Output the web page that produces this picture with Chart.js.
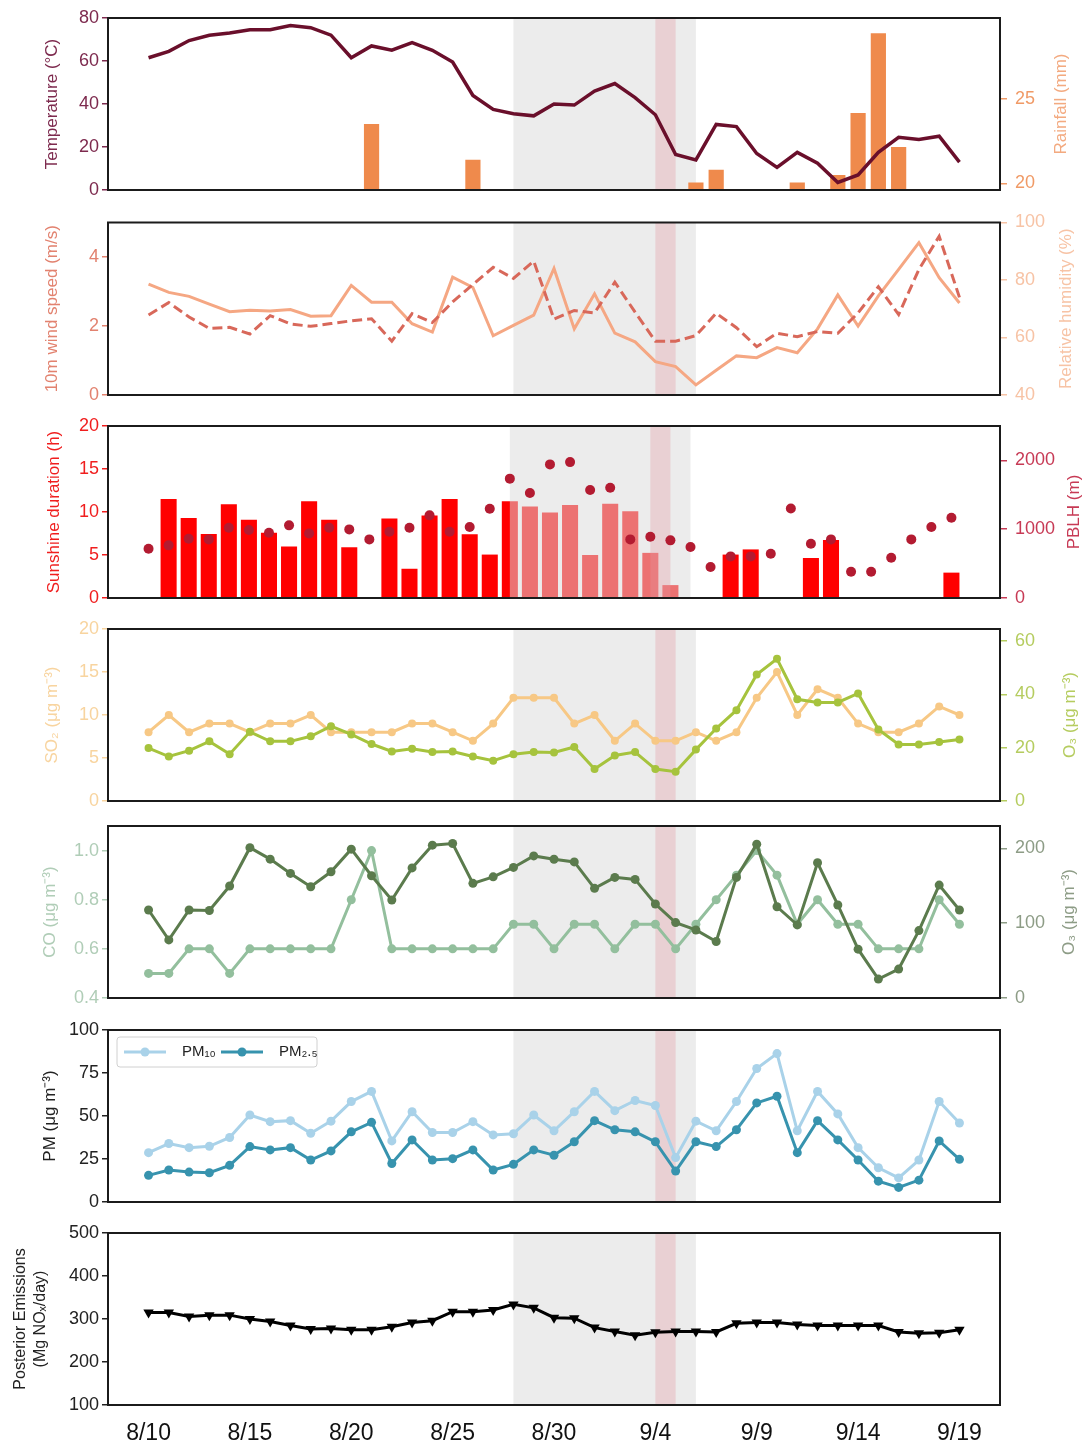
<!DOCTYPE html>
<html>
<head>
<meta charset="utf-8">
<title>Meteorology, pollutants and NOx emissions, 8/10 - 9/19</title>
<script src="https://cdn.jsdelivr.net/npm/chart.js@4.4.1/dist/chart.umd.min.js"></script>
<style>
  html, body { margin: 0; padding: 0; background: #ffffff; }
  #fig { position: relative; width: 1084px; height: 1445px; overflow: hidden; }
  #fig canvas { position: absolute; left: 0; }
</style>
</head>
<body>
<div id="fig"></div>
<script>
// ---- Days on the shared time axis ----
const dates = ['8/10','8/11','8/12','8/13','8/14','8/15','8/16','8/17','8/18','8/19','8/20',
  '8/21','8/22','8/23','8/24','8/25','8/26','8/27','8/28','8/29','8/30','8/31',
  '9/1','9/2','9/3','9/4','9/5','9/6','9/7','9/8','9/9','9/10','9/11','9/12','9/13','9/14',
  '9/15','9/16','9/17','9/18','9/19'];
const xTickLabels = ['8/10','8/15','8/20','8/25','8/30','9/4','9/9','9/14','9/19'];

// Highlighted periods
const episodePeriod = ['8/28', '9/6'];
const peakPeriod = ['9/4', '9/5'];

// ---- Panel 1: temperature and rainfall ----
const temperature = [61.5, 64.5, 69.5, 72, 73, 74.5, 74.5, 76.5, 75.5, 72, 61.5,
  67, 65, 68.5, 65, 59.5, 44, 37.5, 35.5, 34.5, 40, 39.5,
  46, 49.5, 43, 35, 16.5, 14, 30.5, 29.5, 17, 10.5, 17.5, 12.5, 3.5, 7,
  17.5, 24.5, 23.5, 25, 13];
const rainfall = [null, null, null, null, null, null, null, null, null, null, null,
  23.5, null, null, null, null, 21.4, null, null, null, null, null,
  null, null, null, null, null, 20.05, 20.8, null, null, null, 20.05, null, 20.5, 24.15,
  28.85, 22.15, null, null, null];
const temperatureTicks = [0, 20, 40, 60, 80];
const rainfallTicks = [20, 25];

// ---- Panel 2: wind speed and relative humidity ----
const windSpeed = [2.32, 2.68, 2.26, 1.93, 1.96, 1.77, 2.3, 2.06, 1.99, 2.07, 2.15,
  2.21, 1.56, 2.36, 2.1, 2.7, 3.2, 3.7, 3.38, 3.88, 2.2, 2.45,
  2.38, 3.27, 2.4, 1.56, 1.56, 1.72, 2.37, 1.95, 1.4, 1.79, 1.69, 1.84, 1.79, 2.38,
  3.14, 2.33, 3.64, 4.6, 2.83];
const humidity = [78.6, 75.7, 74.3, 71.6, 69, 69.5, 69.2, 69.7, 67.4, 67.6, 78.1,
  72.3, 72.3, 64.8, 61.9, 81, 77.4, 60.6, 64.2, 67.8, 84, 63,
  75.2, 61.5, 58.5, 51.6, 49.9, 43.5, 48.6, 53.6, 53, 56.5, 54.7, 63, 74.8, 64,
  74.5, 83.7, 93, 80.8, 72];
const windTicks = [0, 2, 4];
const humidityTicks = [40, 60, 80, 100];

// ---- Panel 3: sunshine duration and boundary layer height ----
const sunshine = [null, 11.5, 9.3, 7.45, 10.9, 9.1, 7.6, 6.0, 11.25, 9.1, 5.9,
  null, 9.25, 3.4, 9.6, 11.5, 7.4, 5.05, 11.25, 10.65, 9.95, 10.8,
  5.0, 10.95, 10.1, 5.25, 1.5, null, null, 5.05, 5.65, null, null, 4.65, 6.75, null,
  null, null, null, null, 2.95];
const pblh = [716, 765, 862, 852, 1021, 988, 949, 1056, 939, 1021, 997,
  852, 963, 1021, 1201, 963, 1031, 1297, 1735, 1525, 1942, 1975,
  1569, 1602, 852, 891, 838, 741, 450, 605, 605, 644, 1302, 789, 852, 382,
  382, 586, 852, 1031, 1167];
const sunshineTicks = [0, 5, 10, 15, 20];
const pblhTicks = [0, 1000, 2000];

// ---- Panel 4: SO2 and O3 ----
const so2 = [8, 10, 8, 9, 9, 8, 9, 9, 10, 8, 8,
  8, 8, 9, 9, 8, 7, 9, 12, 12, 12, 9,
  10, 7, 9, 7, 7, 8, 7, 8, 12, 15, 10, 13, 12, 9,
  8, 8, 9, 11, 10];
const o3Low = [19.9, 16.7, 18.9, 22.4, 17.6, 26, 22.4, 22.4, 24.3, 28.1, 25,
  21.4, 18.6, 19.6, 18.4, 18.6, 16.7, 15.1, 17.6, 18.4, 18.2, 20.3,
  12, 17.1, 18.4, 12, 11, 19.3, 27.2, 34.1, 47.5, 53.4, 38.2, 37, 37, 40.4,
  26.9, 21.2, 21.2, 22.2, 23.1];
const so2Ticks = [0, 5, 10, 15, 20];
const o3LowTicks = [0, 20, 40, 60];

// ---- Panel 5: CO and O3 ----
const co = [0.5, 0.5, 0.6, 0.6, 0.5, 0.6, 0.6, 0.6, 0.6, 0.6, 0.8,
  1.0, 0.6, 0.6, 0.6, 0.6, 0.6, 0.6, 0.7, 0.7, 0.6, 0.7,
  0.7, 0.6, 0.7, 0.7, 0.6, 0.7, 0.8, 0.9, 1.0, 0.9, 0.7, 0.8, 0.7, 0.7,
  0.6, 0.6, 0.6, 0.8, 0.7];
const o3High = [117.7, 77.7, 117.7, 117, 149.7, 201, 185.7, 166.6, 148.8, 168.8, 199,
  163.5, 131, 174, 204.4, 206.6, 153.3, 162, 174.6, 190, 185.5, 182,
  146.6, 161.3, 158.6, 125.7, 100.8, 91, 75.5, 161.3, 205.7, 122, 97.7, 180.8, 124.4, 65.3,
  25.3, 38.7, 90.1, 151, 117.7];
const coTicks = [0.4, 0.6, 0.8, 1.0];
const o3HighTicks = [0, 100, 200];

// ---- Panel 6: particulate matter ----
const pm10 = [28.7, 34, 31.6, 32.4, 37.5, 50.6, 46.7, 47.3, 40, 47, 58.4,
  64.3, 35.5, 52.5, 40.4, 40.4, 46.7, 39, 39.7, 50.6, 41.4, 52.5,
  64.3, 53.1, 59, 56.1, 25.8, 47, 41.4, 58.4, 77.6, 86.3, 41.4, 64.3, 51.2, 31.6,
  19.9, 14, 24.4, 58.4, 45.9];
const pm25 = [15.5, 18.6, 17.4, 17, 21.3, 32.2, 30.3, 31.6, 24.4, 29.7, 40.8,
  46.3, 22.4, 36.1, 24.4, 25.2, 30.3, 18.6, 21.9, 30.3, 27.2, 35,
  47.3, 42, 40.8, 35, 18, 35, 32.2, 42, 57.6, 61.5, 28.7, 47.3, 36.1, 24.4,
  12.1, 8.5, 12.7, 35.5, 24.8];
const pmTicks = [0, 25, 50, 75, 100];

// ---- Panel 7: posterior NOx emissions ----
const emissions = [315, 315, 306, 309, 309, 300, 294, 285, 277, 278, 275,
  275, 282, 292, 296, 317, 317, 321, 334, 326, 303, 302,
  280, 271, 262, 269, 271, 271, 270, 290, 292, 292, 287, 285, 285, 285,
  285, 270, 267, 268, 275];
const emissionTicks = [100, 200, 300, 400, 500];

// ---------------------------------------------------------------
// Layout and styling
const FONT = "'Liberation Sans', Arial, Helvetica, sans-serif";
Chart.defaults.font.family = FONT;
const LEFT_W = 108, RIGHT_W = 84, PLOT_H = 172, PAD = 22, X_AXIS_H = 40;
const SHADE_GRAY = 'rgba(218,218,218,0.52)';
const SHADE_PINK = 'rgba(226,150,160,0.32)';

const shadeSpans = [
  [dates.indexOf(episodePeriod[0]), dates.indexOf(episodePeriod[1]), SHADE_GRAY],
  [dates.indexOf(peakPeriod[0]), dates.indexOf(peakPeriod[1]), SHADE_PINK]
];

const toPoints = arr => arr.map((v, i) => ({ x: i, y: v }));

function paintShade(chart, opts) {
  const { ctx, chartArea: a, scales: { x } } = chart;
  ctx.save();
  ctx.beginPath();
  ctx.rect(a.left, a.top, a.right - a.left, a.bottom - a.top);
  ctx.clip();
  for (const [from, to, color] of (opts.spans || [])) {
    const x0 = x.getPixelForValue(from), x1 = x.getPixelForValue(to);
    ctx.fillStyle = color;
    ctx.fillRect(x0, a.top, x1 - x0, a.bottom - a.top);
  }
  ctx.restore();
}

// Shaded periods: behind the data, or just above one chosen dataset
const shadePlugin = {
  id: 'shade',
  beforeDatasetsDraw(chart, args, opts) {
    if (opts.afterIndex === undefined || opts.afterIndex === null) paintShade(chart, opts);
  },
  afterDatasetDraw(chart, args, opts) {
    if (opts.afterIndex === args.index) paintShade(chart, opts);
  }
};

// Black box around each plot area
const framePlugin = {
  id: 'frame',
  afterDatasetsDraw(chart) {
    const { ctx, chartArea: a } = chart;
    ctx.save();
    ctx.strokeStyle = '#1b1b1b';
    ctx.lineWidth = 2;
    ctx.strokeRect(a.left, a.top, a.right - a.left, a.bottom - a.top);
    ctx.restore();
  }
};

// Right-hand axis titles, written bottom-to-top
const sideTitlePlugin = {
  id: 'sideTitle',
  afterDraw(chart, args, opts) {
    if (!opts || !opts.text) return;
    const { ctx, chartArea: a } = chart;
    ctx.save();
    ctx.translate(opts.x, (a.top + a.bottom) / 2);
    ctx.rotate(-Math.PI / 2);
    ctx.font = `${opts.size || 17}px ${FONT}`;
    ctx.fillStyle = opts.color;
    ctx.textAlign = 'center';
    ctx.textBaseline = 'middle';
    ctx.fillText(opts.text, 0, 0);
    ctx.restore();
  }
};

// Legend box with line-and-marker samples inside the plot area
const lineLegendPlugin = {
  id: 'lineLegend',
  afterDatasetsDraw(chart, args, opts) {
    if (!opts || !opts.show) return;
    const { ctx, chartArea: a } = chart;
    const bx = a.left + 9, by = a.top + 7, bw = 200, bh = 30, r = 3;
    ctx.save();
    ctx.beginPath();
    ctx.moveTo(bx + r, by);
    ctx.arcTo(bx + bw, by, bx + bw, by + bh, r);
    ctx.arcTo(bx + bw, by + bh, bx, by + bh, r);
    ctx.arcTo(bx, by + bh, bx, by, r);
    ctx.arcTo(bx, by, bx + bw, by, r);
    ctx.closePath();
    ctx.fillStyle = 'rgba(255,255,255,0.9)';
    ctx.fill();
    ctx.strokeStyle = '#d0d0d0';
    ctx.lineWidth = 1;
    ctx.stroke();
    const cy = by + bh / 2;
    let x = bx + 7;
    chart.data.datasets.forEach(ds => {
      ctx.strokeStyle = ds.borderColor;
      ctx.lineWidth = 3;
      ctx.beginPath();
      ctx.moveTo(x, cy);
      ctx.lineTo(x + 42, cy);
      ctx.stroke();
      ctx.fillStyle = ds.borderColor;
      ctx.beginPath();
      ctx.arc(x + 21, cy, 4.5, 0, Math.PI * 2);
      ctx.fill();
      ctx.fillStyle = '#222';
      ctx.font = `15px ${FONT}`;
      ctx.textAlign = 'left';
      ctx.textBaseline = 'middle';
      ctx.fillText(ds.label, x + 58, cy);
      x += 97;
    });
    ctx.restore();
  }
};

function yAxis(side, a) {
  const isLeft = side === 'left';
  const tSize = a.titleSize || 17;
  return {
    type: 'linear',
    position: side,
    min: a.min,
    max: a.max,
    afterBuildTicks: s => { s.ticks = a.ticks.map(v => ({ value: v })); },
    afterFit: s => { s.width = isLeft ? LEFT_W : RIGHT_W; },
    ticks: {
      color: a.color,
      font: { size: 18 },
      padding: isLeft ? 3 : 8,
      autoSkip: false,
      callback: v => (a.fmt ? a.fmt(v) : String(v))
    },
    grid: { drawOnChartArea: false, drawTicks: true, tickLength: isLeft ? 6 : 7, tickColor: a.color, lineWidth: 1.5 },
    border: { display: false },
    title: isLeft ? {
      display: true,
      text: a.title,
      color: a.titleColor || a.color,
      font: { size: tSize, lineHeight: a.titleLineHeight || 1.2 },
      padding: { top: a.titleX - tSize * (a.titleLineHeight || 1.2) / 2, bottom: 0 }
    } : { display: false }
  };
}

function makePanel(p) {
  const fig = document.getElementById('fig');
  const canvas = document.createElement('canvas');
  const canvasTop = Math.floor(p.top - PAD);
  const padTop = p.top - canvasTop;
  const padBottom = p.showX ? 0 : PAD;
  const height = Math.ceil(padTop + PLOT_H + (p.showX ? X_AXIS_H : 0) + padBottom);
  canvas.width = 1084;
  canvas.height = height;
  canvas.style.top = canvasTop + 'px';
  canvas.style.width = '1084px';
  canvas.style.height = height + 'px';
  fig.appendChild(canvas);

  const scales = {
    x: {
      type: 'linear',
      min: p.xMin,
      max: p.xMax,
      offset: false,
      display: !!p.showX,
      afterBuildTicks: s => { s.ticks = xTickLabels.map(l => ({ value: dates.indexOf(l) })); },
      afterFit: s => { if (p.showX) s.height = X_AXIS_H; },
      grid: { display: false, offset: false },
      border: { display: false },
      ticks: { color: '#111', font: { size: 23 }, padding: 7, autoSkip: false, maxRotation: 0,
               callback: v => dates[v] }
    },
    yL: yAxis('left', p.left)
  };
  if (p.right) scales.yR = yAxis('right', p.right);

  return new Chart(canvas, {
    type: 'line',
    data: { datasets: p.datasets },
    options: {
      responsive: false,
      animation: false,
      devicePixelRatio: 1,
      layout: { padding: { top: padTop, bottom: padBottom, left: 0, right: p.right ? 0 : RIGHT_W } },
      plugins: {
        legend: { display: false },
        tooltip: { enabled: false },
        shade: { spans: shadeSpans, afterIndex: p.shadeAfter },
        sideTitle: p.right ? { text: p.right.title, color: p.right.titleColor || p.right.color, x: p.right.titleX } : {},
        lineLegend: { show: !!p.legend }
      },
      elements: { line: { tension: 0 } },
      scales
    },
    plugins: [shadePlugin, framePlugin, sideTitlePlugin, lineLegendPlugin]
  });
}

function lineSet(label, values, color, axis, extra) {
  return Object.assign({
    type: 'line', label, data: toPoints(values), yAxisID: axis,
    borderColor: color, backgroundColor: color, borderWidth: 3,
    pointRadius: 0, pointBorderWidth: 0, pointBackgroundColor: color, fill: false
  }, extra || {});
}

// 1. Temperature and rainfall
makePanel({
  top: 18, xMin: -2, xMax: 42,
  left: { min: 0, max: 80, ticks: temperatureTicks, color: '#7d2a4e', title: 'Temperature (°C)', titleX: 52 },
  right: { min: 19.61, max: 29.75, ticks: rainfallTicks, color: '#f09a66', title: 'Rainfall (mm)', titleColor: '#f3aa80', titleX: 1061 },
  datasets: [
    lineSet('Temperature', temperature, '#6a0f2b', 'yL', { borderWidth: 3.5, order: 1 }),
    { type: 'bar', label: 'Rainfall', data: toPoints(rainfall), yAxisID: 'yR',
      backgroundColor: '#ef8a4c', barPercentage: 0.75, categoryPercentage: 1, order: 2 }
  ]
});

// 2. Wind speed and relative humidity
makePanel({
  top: 222.5, xMin: -2, xMax: 42,
  left: { min: 0, max: 5, ticks: windTicks, color: '#e2826f', title: '10m wind speed (m/s)', titleX: 52 },
  right: { min: 40, max: 100, ticks: humidityTicks, color: '#f7c3a5', title: 'Relative humidity (%)', titleX: 1066 },
  datasets: [
    lineSet('10m wind speed', windSpeed, '#d8685a', 'yL', { borderDash: [10, 5], order: 1 }),
    lineSet('Relative humidity', humidity, '#f5a783', 'yR', { order: 2 })
  ]
});

// 3. Sunshine duration and PBLH
makePanel({
  top: 426, xMin: -2.02, xMax: 42.42, shadeAfter: 0,
  left: { min: 0, max: 20, ticks: sunshineTicks, color: '#f01e1e', title: 'Sunshine duration (h)', titleX: 54 },
  right: { min: 0, max: 2500, ticks: pblhTicks, color: '#c73a55', title: 'PBLH (m)', titleX: 1074 },
  datasets: [
    { type: 'bar', label: 'Sunshine duration', data: toPoints(sunshine), yAxisID: 'yL',
      backgroundColor: '#ff0000', barPercentage: 0.8, categoryPercentage: 1, order: 2 },
    lineSet('PBLH', pblh, '#b31b31', 'yR', { showLine: false, pointRadius: 5, order: 1 })
  ]
});

// 4. SO2 and O3
makePanel({
  top: 629, xMin: -2, xMax: 42,
  left: { min: 0, max: 20, ticks: so2Ticks, color: '#f8d49f', title: 'SO₂ (μg m⁻³)', titleX: 52 },
  right: { min: 0, max: 64.6, ticks: o3LowTicks, color: '#b5cc5f', title: 'O₃ (μg m⁻³)', titleX: 1070 },
  datasets: [
    lineSet('SO2', so2, '#f7c885', 'yL', { pointRadius: 4, order: 2 }),
    lineSet('O3', o3Low, '#a6c33d', 'yR', { pointRadius: 4, order: 1 })
  ]
});

// 5. CO and O3
makePanel({
  top: 826, xMin: -2, xMax: 42,
  left: { min: 0.4, max: 1.1, ticks: coTicks, color: '#b0cdb7', title: 'CO (μg m⁻³)', titleX: 50, fmt: v => v.toFixed(1) },
  right: { min: 0, max: 230, ticks: o3HighTicks, color: '#8d9c86', title: 'O₃ (μg m⁻³)', titleX: 1069 },
  datasets: [
    lineSet('CO', co, '#93bf9d', 'yL', { pointRadius: 4.5, order: 2 }),
    lineSet('O3', o3High, '#5b7b4d', 'yR', { pointRadius: 4.5, order: 1 })
  ]
});

// 6. PM10 and PM2.5
makePanel({
  top: 1030, xMin: -2, xMax: 42, legend: true,
  left: { min: 0, max: 100, ticks: pmTicks, color: '#222', title: 'PM (μg m⁻³)', titleX: 50 },
  datasets: [
    lineSet('PM₁₀', pm10, '#a9d2e9', 'yL', { pointRadius: 4.5, order: 2 }),
    lineSet('PM₂.₅', pm25, '#3793ae', 'yL', { pointRadius: 4.5, order: 1 })
  ]
});

// 7. Posterior NOx emissions
makePanel({
  top: 1233, xMin: -2, xMax: 42, showX: true,
  left: { min: 100, max: 500, ticks: emissionTicks, color: '#222',
          title: ['Posterior Emissions', '(Mg NOₓ/day)'], titleX: 21, titleSize: 16, titleLineHeight: 1.2 },
  datasets: [
    lineSet('Posterior emissions', emissions, '#000000', 'yL',
      { pointRadius: 6, pointStyle: 'triangle', pointRotation: 180, borderWidth: 3 })
  ]
});
</script>
</body>
</html>
